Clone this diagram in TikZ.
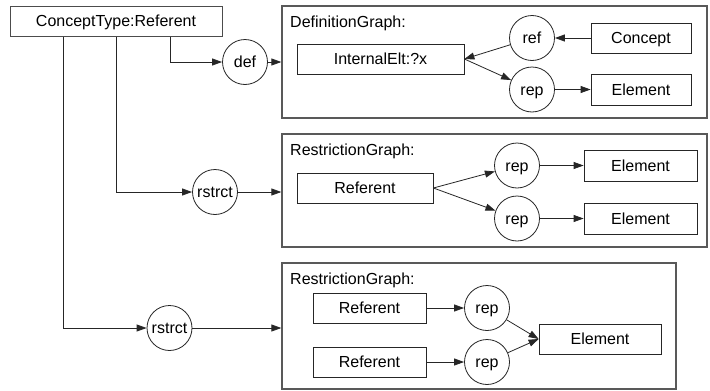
\documentclass[tikz,border=0pt]{standalone}
\usepackage{fontspec}
\setmainfont{Liberation Sans}
\usetikzlibrary{arrows.meta}
\begin{document}
\begin{tikzpicture}[x=1pt,y=-1pt,
  every node/.style={font=\fontsize{16}{19}\selectfont, text height=11.5pt, text depth=0pt, inner sep=0pt},
  box/.style={draw=black!85, line width=0.8pt, rectangle},
  rel/.style={draw=black!85, line width=0.8pt, circle, minimum size=45pt},
  frame/.style={draw=black!65, line width=1.3pt, rectangle},
  lbl/.style={anchor=base west},
  link/.style={draw=black!85, line width=0.8pt, -{Triangle[length=10pt,width=7pt]}}]

\fill[white] (0,0) rectangle (710,391);
\useasboundingbox (0,0) rectangle (710,391);

% source concept
\node[box, draw=black!70, line width=1pt, minimum width=212pt, minimum height=30pt] (ct) at (116,21) {ConceptType:Referent};

% definition graph
\node[frame, minimum width=425pt, minimum height=112pt] (dg) at (494.5,62) {};
\node[lbl] (dgl) at (290,27) {DefinitionGraph:};
\node[rel] (def) at (245,62) {def};
\node[box, minimum width=167pt, minimum height=30pt] (ie) at (380.5,59) {InternalElt:?x};
\node[rel] (rf) at (532,38) {ref};
\node[rel] (rp1) at (532,89.5) {rep};
\node[box, minimum width=100pt, minimum height=30pt] (cp) at (641,38) {Concept};
\node[box, minimum width=100pt, minimum height=31pt] (el1) at (641,89.5) {Element};

% first restriction graph
\node[frame, minimum width=425pt, minimum height=113pt] (mg) at (494.5,190.5) {};
\node[lbl] (mgl) at (290,155) {RestrictionGraph:};
\node[rel] (rs1) at (215,192) {rstrct};
\node[box, minimum width=136pt, minimum height=30pt] (rf2) at (365,188) {Referent};
\node[rel] (rp2) at (517,165.5) {rep};
\node[rel] (rp3) at (517,218.5) {rep};
\node[box, minimum width=113pt, minimum height=31pt] (el2) at (640.5,165.5) {Element};
\node[box, minimum width=113pt, minimum height=31pt] (el3) at (640.5,218.5) {Element};

% second restriction graph
\node[frame, minimum width=394pt, minimum height=126pt] (bg) at (479,326) {};
\node[lbl] (bgl) at (290,284) {RestrictionGraph:};
\node[rel] (rs2) at (169.5,328) {rstrct};
\node[box, minimum width=113pt, minimum height=30pt] (rf3) at (369.5,308) {Referent};
\node[box, minimum width=113pt, minimum height=30pt] (rf4) at (369.5,362) {Referent};
\node[rel] (rp4) at (487,308) {rep};
\node[rel] (rp5) at (487,362) {rep};
\node[box, minimum width=122pt, minimum height=30pt] (el4) at (600,339) {Element};

% connectors from the source concept
\draw[link] ([xshift=54pt]ct.south) |- (def);
\draw[link] (def) -- (def -| dg.west);
\draw[link] (ct.south) |- (rs1);
\draw[link] (rs1) -- (rs1 -| mg.west);
\draw[link] ([xshift=-53pt]ct.south) |- (rs2);
\draw[link] (rs2) -- (rs2 -| bg.west);

% inside the definition graph
\draw[link] (cp) -- (rf);
\draw[link] (rf) -- (ie.east);
\draw[link] (ie.east) -- (rp1);
\draw[link] (rp1) -- (el1);

% inside the first restriction graph
\draw[link] (rf2.east) -- (rp2);
\draw[link] (rf2.east) -- (rp3);
\draw[link] (rp2) -- (el2);
\draw[link] (rp3) -- (el3);

% inside the second restriction graph
\draw[link] (rf3) -- (rp4);
\draw[link] (rf4) -- (rp5);
\draw[link] (rp4) -- (el4.west);
\draw[link] (rp5) -- (el4.west);
\end{tikzpicture}
\end{document}
